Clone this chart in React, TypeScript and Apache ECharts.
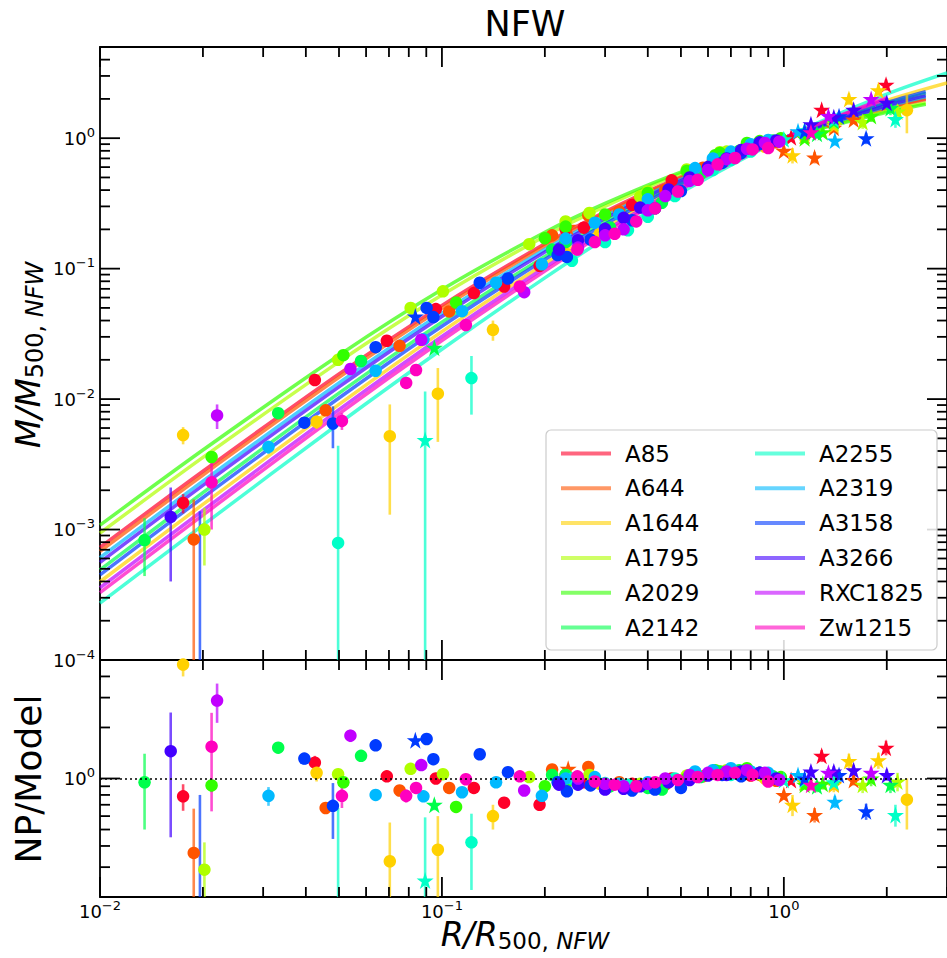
import React, { useEffect, useRef } from "react";
import * as echarts from "echarts";

// ---------------- data ----------------
const CLUSTERS = ["A85", "A644", "A1644", "A1795", "A2029", "A2142", "A2255", "A2319", "A3158", "A3266", "RXC1825", "Zw1215"];
const COLORS = ["#ff0029", "#ff5400", "#ffd100", "#afff00", "#32ff00", "#00ff4b", "#00ffc7", "#00b9ff", "#003bff", "#4300ff", "#c100ff", "#ff00bf"];

// model curves (M/M500)
const MODEL_X = [0.01, 0.02, 0.05, 0.1, 0.2, 0.3, 0.5, 1, 2];
const MODEL_A85 = [7.3e-4, 2.8e-3, 1.56e-2, 5.23e-2, 0.155, 0.273, 0.505, 1, 1.69];
const MODEL_A644 = [6.8e-4, 2.62e-3, 1.47e-2, 4.97e-2, 0.149, 0.264, 0.497, 1, 1.71];
const MODEL_A1644 = [3.98e-4, 1.56e-3, 9.1e-3, 3.29e-2, 0.109, 0.207, 0.432, 1, 1.94];
const MODEL_A1795 = [9.4e-4, 3.57e-3, 1.93e-2, 6.27e-2, 0.177, 0.3, 0.534, 1, 1.62];
const MODEL_A2029 = [1.08e-3, 4.07e-3, 2.17e-2, 6.91e-2, 0.19, 0.316, 0.549, 1, 1.58];
const MODEL_A2142 = [4.9e-4, 1.92e-3, 1.11e-2, 3.89e-2, 0.124, 0.23, 0.459, 1, 1.83];
const MODEL_A2255 = [2.73e-4, 1.08e-3, 6.5e-3, 2.41e-2, 0.085, 0.17, 0.383, 1, 2.18];
const MODEL_A2319 = [6.1e-4, 2.35e-3, 1.33e-2, 4.57e-2, 0.14, 0.252, 0.484, 1, 1.75];
const MODEL_A3158 = [4.5e-4, 1.76e-3, 1.02e-2, 3.62e-2, 0.1175, 0.22, 0.447, 1, 1.87];
const MODEL_A3266 = [5.6e-4, 2.18e-3, 1.24e-2, 4.3e-2, 0.134, 0.243, 0.474, 1, 1.78];
const MODEL_RXC1825 = [3.58e-4, 1.4e-3, 8.3e-3, 3.02e-2, 0.102, 0.196, 0.418, 1, 2.0];
const MODEL_ZW1215 = [3.29e-4, 1.29e-3, 7.7e-3, 2.81e-2, 0.096, 0.188, 0.407, 1, 2.05];
const MODEL_END = [[2.6, 1.98], [2.6, 2.02], [3, 2.65], [2.6, 1.87], [2.6, 1.82], [2.6, 2.2], [3, 3.17], [2.6, 2.08], [2.6, 2.27], [2.6, 2.12], null, null];

// points: [R/R500, M/M500, sigma_M, NP/Model, sigma_ratio, star?]
const PTS_A85 = [
  [0.0175, 1.6e-3, 2.7e-4, 0.785, 0.14, 0], [0.0425, 1.4e-2, 1.3e-3, 1.24, 0.12, 0], [0.069, 2.8e-2, 1.8e-3, 1.03, 0.06, 0],
  [0.096, 4.9e-2, 2.5e-3, 1.0, 0.05, 0], [0.124, 6.5e-2, 3e-3, 0.88, 0.04, 0], [0.152, 7.3e-2, 3e-3, 0.72, 0.04, 0],
  [0.193, 0.105, 5e-3, 0.7, 0.04, 0], [0.23, 0.2, 0.01, 1.05, 0.05, 0], [0.26, 0.206, 0.01, 0.95, 0.05, 0],
  [0.36, 0.308, 0.015, 0.93, 0.05, 0], [0.4, 0.36, 0.018, 0.93, 0.05, 0], [0.47, 0.475, 0.02, 1.0, 0.05, 0],
  [0.62, 0.668, 0.03, 1.07, 0.05, 0], [0.8, 0.835, 0.04, 1.04, 0.05, 0], [0.85, 0.92, 0.045, 1.07, 0.05, 0],
  [1.05, 1.016, 0.06, 0.98, 0.06, 1], [1.15, 1.05, 0.07, 0.95, 0.06, 1], [1.29, 1.65, 0.13, 1.36, 0.11, 1],
  [1.99, 2.57, 0.25, 1.52, 0.15, 1],
];
const PTS_A644 = [
  [0.0188, 8.4e-4, 8.6e-4, 0.364, 0.3, 0], [0.0457, 8.2e-3, 6e-4, 0.67, 0.05, 0], [0.0752, 2.56e-2, 1.5e-3, 0.85, 0.05, 0],
  [0.105, 4.7e-2, 2.5e-3, 0.88, 0.05, 0], [0.21, 0.18, 0.008, 1.13, 0.05, 0], [0.234, 0.209, 0.01, 1.14, 0.05, 1],
  [0.268, 0.256, 0.012, 1.17, 0.05, 0], [0.33, 0.274, 0.013, 0.95, 0.045, 0], [0.4, 0.35, 0.018, 0.92, 0.045, 0],
  [0.45, 0.4, 0.02, 0.92, 0.045, 0], [0.58, 0.594, 0.03, 1.03, 0.05, 0], [0.65, 0.72, 0.035, 1.06, 0.05, 0],
  [0.75, 0.81, 0.04, 1.08, 0.05, 0], [0.85, 0.9, 0.045, 1.05, 0.05, 0], [0.95, 0.93, 0.05, 0.97, 0.05, 0],
  [1.0, 0.8, 0.05, 0.8, 0.05, 1], [1.23, 0.71, 0.07, 0.61, 0.06, 1], [1.4, 1.2, 0.09, 0.93, 0.07, 1],
  [1.6, 1.39, 0.1, 0.98, 0.07, 1],
];
const PTS_A1644 = [
  [0.0175, 5.3e-3, 8e-4, 4.7, 0.7, 0], [0.043, 6.7e-3, 8e-4, 1.08, 0.12, 0], [0.0704, 5.2e-3, 3.9e-3, 0.325, 0.225, 0],
  [0.0973, 1.1e-2, 6.3e-3, 0.38, 0.22, 0], [0.141, 3.4e-2, 6e-3, 0.6, 0.1, 0], [0.23, 0.13, 0.007, 1.0, 0.05, 0],
  [0.29, 0.186, 0.01, 0.93, 0.05, 0], [0.42, 0.29, 0.015, 0.9, 0.05, 0], [0.55, 0.51, 0.025, 1.05, 0.05, 0],
  [0.65, 0.68, 0.035, 1.1, 0.05, 0], [0.72, 0.74, 0.04, 1.1, 0.05, 0], [0.88, 0.86, 0.045, 1.0, 0.05, 0],
  [1.06, 0.74, 0.1, 0.7, 0.1, 1], [1.15, 1.1, 0.1, 0.96, 0.09, 1], [1.4, 1.25, 0.12, 0.92, 0.09, 1],
  [1.55, 2.0, 0.2, 1.27, 0.13, 1], [1.89, 2.33, 0.25, 1.28, 0.14, 1], [2.29, 1.64, 0.55, 0.75, 0.25, 0],
];
const PTS_A1795 = [
  [0.0202, 1.0e-3, 4.7e-4, 0.29, 0.13, 0], [0.0497, 2.0e-2, 1e-3, 1.06, 0.05, 0], [0.081, 5.0e-2, 3e-3, 1.14, 0.06, 0],
  [0.1007, 6.7e-2, 3.5e-3, 1.06, 0.05, 0], [0.18, 0.154, 0.008, 1.02, 0.05, 0], [0.23, 0.23, 0.012, 1.05, 0.05, 0],
  [0.27, 0.267, 0.013, 1.05, 0.05, 0], [0.38, 0.357, 0.018, 0.93, 0.05, 0], [0.4, 0.39, 0.02, 0.93, 0.05, 0],
  [0.52, 0.575, 0.03, 1.04, 0.05, 0], [0.65, 0.78, 0.04, 1.08, 0.05, 0], [0.68, 0.79, 0.04, 1.12, 0.05, 0],
  [0.86, 0.92, 0.05, 1.05, 0.05, 0], [1.15, 1.05, 0.06, 0.95, 0.06, 1], [1.4, 1.3, 0.1, 1.04, 0.08, 1],
  [1.7, 1.33, 0.15, 0.92, 0.1, 1], [2.15, 1.6, 0.2, 0.96, 0.12, 1],
];
const PTS_A2029 = [
  [0.0212, 3.6e-3, 3e-4, 0.91, 0.08, 0], [0.0515, 2.17e-2, 1.2e-3, 0.95, 0.05, 0], [0.11, 5.5e-2, 3e-3, 0.68, 0.04, 0],
  [0.2, 0.171, 0.009, 0.9, 0.05, 0], [0.23, 0.21, 0.01, 0.92, 0.05, 0], [0.3, 0.26, 0.013, 0.87, 0.045, 0],
  [0.4, 0.38, 0.02, 0.9, 0.045, 0], [0.52, 0.56, 0.03, 1.0, 0.05, 0], [0.63, 0.74, 0.04, 1.12, 0.05, 0],
  [0.65, 0.77, 0.04, 1.07, 0.05, 0], [0.78, 0.92, 0.045, 1.15, 0.05, 0], [0.85, 0.95, 0.05, 1.08, 0.05, 0],
  [0.98, 1.0, 0.05, 1.02, 0.05, 0], [1.15, 1.0, 0.07, 0.92, 0.06, 1], [1.3, 1.11, 0.08, 0.93, 0.07, 1],
  [1.8, 1.48, 0.15, 1.0, 0.1, 1],
];
const PTS_A2142 = [
  [0.0135, 8.3e-4, 3.9e-4, 0.95, 0.45, 0], [0.0332, 7.8e-3, 5e-4, 1.52, 0.08, 0], [0.058, 1.96e-2, 1.2e-3, 1.36, 0.07, 0],
  [0.095, 2.48e-2, 1.8e-3, 0.7, 0.05, 1], [0.21, 0.14, 0.007, 1.05, 0.05, 0], [0.23, 0.16, 0.008, 1.05, 0.05, 0],
  [0.31, 0.207, 0.01, 0.9, 0.045, 0], [0.4, 0.3, 0.015, 0.88, 0.045, 0], [0.44, 0.32, 0.016, 0.86, 0.045, 0],
  [0.57, 0.53, 0.027, 1.02, 0.05, 0], [0.65, 0.7, 0.035, 1.1, 0.05, 0], [0.74, 0.8, 0.04, 1.12, 0.05, 0],
  [0.93, 0.96, 0.05, 1.03, 0.05, 0], [1.25, 1.08, 0.08, 0.9, 0.07, 1], [1.4, 1.35, 0.1, 1.02, 0.08, 1],
  [2.05, 1.7, 0.2, 0.92, 0.1, 1],
];
const PTS_A2255 = [
  [0.0497, 7.9e-4, 3.6e-3, 0.12, 0.55, 0], [0.0893, 4.85e-3, 6.6e-3, 0.25, 0.34, 1], [0.122, 1.45e-2, 6.9e-3, 0.42, 0.2, 0],
  [0.24, 0.115, 0.006, 1.0, 0.05, 0], [0.3, 0.16, 0.008, 0.94, 0.05, 0], [0.35, 0.197, 0.01, 0.92, 0.05, 0],
  [0.4, 0.25, 0.013, 0.93, 0.05, 0], [0.48, 0.36, 0.018, 1.0, 0.05, 0], [0.62, 0.57, 0.03, 1.1, 0.05, 0],
  [0.7, 0.68, 0.035, 1.05, 0.05, 0], [0.8, 0.79, 0.04, 1.08, 0.05, 0], [1.0, 0.98, 0.05, 0.98, 0.05, 1],
  [1.15, 1.15, 0.09, 0.98, 0.07, 1], [1.4, 1.39, 0.1, 0.95, 0.07, 1], [2.12, 1.4, 0.2, 0.61, 0.09, 1],
];
const PTS_A2319 = [
  [0.0311, 4.3e-3, 5e-4, 0.79, 0.1, 0], [0.064, 1.65e-2, 8e-4, 0.8, 0.04, 0], [0.0883, 2.87e-2, 1.5e-3, 0.785, 0.04, 0],
  [0.1145, 4.72e-2, 2.4e-3, 0.83, 0.04, 0], [0.144, 7.8e-2, 4e-3, 0.95, 0.05, 0], [0.196, 0.108, 0.005, 0.79, 0.04, 0],
  [0.23, 0.17, 0.009, 1.0, 0.05, 0], [0.28, 0.225, 0.011, 1.02, 0.05, 0], [0.33, 0.26, 0.013, 0.93, 0.05, 0],
  [0.4, 0.34, 0.017, 0.95, 0.05, 0], [0.55, 0.59, 0.03, 1.1, 0.05, 0], [0.62, 0.7, 0.035, 1.12, 0.05, 0],
  [0.7, 0.79, 0.04, 1.15, 0.05, 0], [0.8, 0.9, 0.045, 1.1, 0.05, 0], [0.9, 0.97, 0.05, 1.08, 0.05, 0],
  [1.1, 1.13, 0.07, 1.05, 0.06, 1], [1.41, 0.96, 0.08, 0.73, 0.06, 1],
];
const PTS_A3158 = [
  [0.0196, -2e-4, 1.58e-3, -0.12, 0.92, 0], [0.0396, 6.6e-3, 5e-4, 1.31, 0.1, 0], [0.048, 6.5e-3, 2.3e-3, 0.69, 0.25, 0],
  [0.064, 2.5e-2, 1.3e-3, 1.57, 0.08, 0], [0.0836, 4.3e-2, 2.5e-3, 1.68, 0.1, 1], [0.0902, 5.0e-2, 2.5e-3, 1.71, 0.09, 0],
  [0.0944, 4.25e-2, 3.5e-3, 1.3, 0.1, 0], [0.129, 7.8e-2, 4e-3, 1.39, 0.07, 0], [0.156, 8.4e-2, 4e-3, 1.09, 0.05, 0],
  [0.218, 0.127, 0.006, 0.95, 0.05, 0], [0.232, 0.123, 0.006, 0.84, 0.04, 0], [0.272, 0.167, 0.008, 0.91, 0.045, 0],
  [0.3, 0.19, 0.01, 0.87, 0.045, 0], [0.36, 0.235, 0.012, 0.85, 0.04, 0], [0.42, 0.29, 0.015, 0.86, 0.045, 0],
  [0.5, 0.393, 0.02, 0.88, 0.045, 0], [0.66, 0.648, 0.03, 1.05, 0.05, 0], [0.75, 0.77, 0.04, 1.03, 0.05, 0],
  [0.85, 0.9, 0.045, 1.08, 0.05, 0], [1.15, 1.13, 0.08, 1.0, 0.07, 1], [1.45, 1.47, 0.1, 1.05, 0.07, 1],
  [1.74, 1.0, 0.1, 0.64, 0.07, 1],
];
const PTS_A3266 = [
  [0.0161, 1.25e-3, 8.5e-4, 1.45, 1.0, 0], [0.22, 0.14, 0.007, 0.92, 0.045, 0], [0.25, 0.165, 0.008, 0.92, 0.045, 0],
  [0.3, 0.202, 0.01, 0.86, 0.045, 0], [0.34, 0.245, 0.012, 0.87, 0.045, 0], [0.38, 0.294, 0.015, 0.9, 0.045, 0],
  [0.46, 0.405, 0.02, 0.95, 0.05, 0], [0.53, 0.5, 0.025, 0.98, 0.05, 0], [0.6, 0.6, 0.03, 1.04, 0.05, 0],
  [0.68, 0.7, 0.035, 1.05, 0.05, 0], [0.75, 0.81, 0.04, 1.1, 0.05, 0], [0.85, 0.93, 0.045, 1.08, 0.05, 0],
  [0.95, 0.96, 0.05, 1.0, 0.05, 0], [1.2, 1.28, 0.08, 1.1, 0.07, 1], [1.4, 1.45, 0.1, 1.1, 0.08, 1],
  [1.6, 1.65, 0.12, 1.12, 0.08, 1], [2.0, 1.87, 0.15, 1.05, 0.08, 1],
];
const PTS_RXC1825 = [
  [0.022, 7.5e-3, 1.6e-3, 2.88, 0.75, 0], [0.054, 1.7e-2, 1.4e-3, 1.79, 0.15, 0], [0.087, 2.85e-2, 1.8e-3, 1.2, 0.08, 0],
  [0.174, 6.6e-2, 3.3e-3, 0.85, 0.045, 0], [0.25, 0.145, 0.007, 1.0, 0.05, 0], [0.3, 0.18, 0.009, 0.93, 0.045, 0],
  [0.34, 0.2, 0.01, 0.9, 0.045, 0], [0.4, 0.28, 0.014, 0.93, 0.045, 0], [0.45, 0.36, 0.018, 1.0, 0.05, 0],
  [0.53, 0.47, 0.024, 1.05, 0.05, 0], [0.6, 0.57, 0.03, 1.08, 0.05, 0], [0.68, 0.69, 0.035, 1.1, 0.05, 0],
  [0.78, 0.83, 0.04, 1.12, 0.05, 0], [0.88, 0.92, 0.045, 1.08, 0.05, 0], [0.97, 0.94, 0.05, 0.98, 0.05, 0],
  [1.35, 1.48, 0.1, 1.08, 0.07, 1], [1.8, 2.0, 0.15, 1.08, 0.08, 1],
];
const PTS_ZW1215 = [
  [0.0212, 2.3e-3, 1.3e-3, 1.54, 0.9, 0], [0.051, 6.8e-3, 1e-3, 0.79, 0.12, 0], [0.0786, 1.33e-2, 1.2e-3, 0.79, 0.07, 0],
  [0.084, 1.67e-2, 1e-3, 0.88, 0.05, 0], [0.1175, 3.7e-2, 2e-3, 0.99, 0.05, 0], [0.169, 7.3e-2, 3.5e-3, 1.03, 0.05, 0],
  [0.249, 0.14, 0.007, 1.03, 0.05, 0], [0.28, 0.16, 0.008, 0.96, 0.045, 0], [0.32, 0.185, 0.009, 0.92, 0.045, 0],
  [0.37, 0.23, 0.012, 0.9, 0.045, 0], [0.42, 0.29, 0.015, 0.95, 0.05, 0], [0.49, 0.39, 0.02, 0.98, 0.05, 0],
  [0.56, 0.48, 0.024, 1.02, 0.05, 0], [0.64, 0.63, 0.03, 1.05, 0.05, 0], [0.72, 0.705, 0.035, 1.08, 0.05, 0],
  [0.81, 0.82, 0.04, 1.05, 0.05, 0], [0.9, 0.84, 0.04, 0.96, 0.05, 0], [1.2, 1.11, 0.08, 0.92, 0.07, 1],
];

// axis ticks
const X_MAJOR = [0.01, 0.1, 1];
const X_MINOR = [0.02, 0.03, 0.04, 0.05, 0.06, 0.07, 0.08, 0.09, 0.2, 0.3, 0.4, 0.5, 0.6, 0.7, 0.8, 0.9, 2, 3];
const YTOP_MAJOR = [1e-4, 1e-3, 1e-2, 1e-1, 1];
const YTOP_MINOR = [
  2e-4, 3e-4, 4e-4, 5e-4, 6e-4, 7e-4, 8e-4, 9e-4,
  2e-3, 3e-3, 4e-3, 5e-3, 6e-3, 7e-3, 8e-3, 9e-3,
  2e-2, 3e-2, 4e-2, 5e-2, 6e-2, 7e-2, 8e-2, 9e-2,
  0.2, 0.3, 0.4, 0.5, 0.6, 0.7, 0.8, 0.9, 2, 3, 4,
];
const YBOT_MAJOR = [1];
const YBOT_MINOR = [0.2, 0.3, 0.4, 0.5, 0.6, 0.7, 0.8, 0.9, 2, 3, 4];

const MODELS = [MODEL_A85, MODEL_A644, MODEL_A1644, MODEL_A1795, MODEL_A2029, MODEL_A2142, MODEL_A2255, MODEL_A2319, MODEL_A3158, MODEL_A3266, MODEL_RXC1825, MODEL_ZW1215];
const POINTS = [PTS_A85, PTS_A644, PTS_A1644, PTS_A1795, PTS_A2029, PTS_A2142, PTS_A2255, PTS_A2319, PTS_A3158, PTS_A3266, PTS_RXC1825, PTS_ZW1215];

// ---------------- helpers ----------------
const FONT = "DejaVu Sans";
const STAR = "path://M0,-1L0.2245,-0.309L0.9511,-0.309L0.3633,0.118L0.5878,0.809L0,0.382L-0.5878,0.809L-0.3633,0.118L-0.9511,-0.309L-0.2245,-0.309Z";

const TICK_RICH = {
  b: { fontSize: 18, fontFamily: FONT, color: "#000", lineHeight: 25 },
  s: { fontSize: 13, fontFamily: FONT, color: "#000", lineHeight: 13, padding: [0, 0, 12, 0] },
};
const powLabel = (v: number) => {
  const e = Math.round(Math.log10(v));
  if (Math.abs(v / Math.pow(10, e) - 1) > 1e-6) return "";
  return `{b|10}{s|${e < 0 ? "\u2212" : ""}${Math.abs(e)}}`;
};

type Tick = { ax: string; v: number; L: number };
function buildTicks(xMaj: number[], xMin: number[], yMaj: number[], yMin: number[]): Tick[] {
  const t: Tick[] = [];
  xMaj.forEach((v) => t.push({ ax: "x", v, L: 20 }));
  xMin.forEach((v) => t.push({ ax: "x", v, L: 10 }));
  yMaj.forEach((v) => t.push({ ax: "y", v, L: 20 }));
  yMin.forEach((v) => t.push({ ax: "y", v, L: 10 }));
  return t;
}

function tickSeries(gi: number, ticks: Tick[]) {
  return {
    type: "custom",
    xAxisIndex: gi,
    yAxisIndex: gi,
    silent: true,
    clip: false,
    z: 10,
    data: ticks.map(() => [1, 1]),
    renderItem: (params: any, api: any) => {
      const t = ticks[params.dataIndex];
      const cs = params.coordSys;
      const st = { stroke: "#000", lineWidth: 1.8 };
      if (t.ax === "x") {
        const px = api.coord([t.v, 1])[0];
        return {
          type: "group",
          children: [
            { type: "line", shape: { x1: px, y1: cs.y + cs.height, x2: px, y2: cs.y + cs.height - t.L }, style: st },
            { type: "line", shape: { x1: px, y1: cs.y, x2: px, y2: cs.y + t.L }, style: st },
          ],
        };
      }
      const py = api.coord([1, t.v])[1];
      return {
        type: "group",
        children: [
          { type: "line", shape: { x1: cs.x, y1: py, x2: cs.x + t.L, y2: py }, style: st },
          { type: "line", shape: { x1: cs.x + cs.width, y1: py, x2: cs.x + cs.width - t.L, y2: py }, style: st },
        ],
      };
    },
  };
}

function errSeries(gi: number, rows: number[][], color: string) {
  return {
    type: "custom",
    xAxisIndex: gi,
    yAxisIndex: gi,
    silent: true,
    clip: true,
    z: 3,
    dimensions: ["x", "lo", "hi"],
    encode: { x: 0, y: 2 },
    data: rows,
    renderItem: (params: any, api: any) => {
      const x = api.value(0);
      const lo = api.value(1);
      const hi = api.value(2);
      const cs = params.coordSys;
      const top = api.coord([x, hi]);
      const yLo = lo > 0 ? api.coord([x, lo])[1] : cs.y + cs.height + 30;
      return {
        type: "line",
        shape: { x1: top[0], y1: top[1], x2: top[0], y2: yLo },
        style: { stroke: color, lineWidth: 2.6, opacity: 0.7 },
      };
    },
  };
}

function scatterSeries(gi: number, pts: number[][], vi: number, color: string, name: string) {
  return {
    type: "scatter",
    name,
    xAxisIndex: gi,
    yAxisIndex: gi,
    z: 4,
    clip: true,
    itemStyle: { color, opacity: 1 },
    data: pts
      .filter((p) => p[vi] > 0)
      .map((p) => ({ value: [p[0], p[vi]], symbol: p[5] ? STAR : "circle", symbolSize: p[5] ? 17 : 12.5 })),
  };
}

function buildOption() {
  const series: any[] = [];
  CLUSTERS.forEach((name, i) => {
    const color = COLORS[i];
    const line = MODEL_X.map((x, k) => [x, MODELS[i][k]]);
    if (MODEL_END[i]) line.push(MODEL_END[i] as number[]);
    series.push({
      type: "line",
      name,
      xAxisIndex: 0,
      yAxisIndex: 0,
      data: line,
      symbol: "none",
      showSymbol: false,
      smooth: 0.3,
      z: 2,
      lineStyle: { color, width: 3.5, opacity: 0.7 },
      itemStyle: { color },
    });
  });
  CLUSTERS.forEach((name, i) => {
    const color = COLORS[i];
    const pts = POINTS[i];
    series.push(errSeries(0, pts.map((p) => [p[0], p[1] - p[2], p[1] + p[2]]), color));
    series.push(scatterSeries(0, pts, 1, color, name + " data"));
    series.push(errSeries(1, pts.map((p) => [p[0], p[3] - p[4], p[3] + p[4]]), color));
    const sc: any = scatterSeries(1, pts, 3, color, name + " ratio");
    if (i === 0) {
      sc.markLine = {
        silent: true,
        symbol: ["none", "none"],
        label: { show: false },
        lineStyle: { color: "#000", type: [2, 3], width: 1.6 },
        data: [{ yAxis: 1 }],
      };
    }
    series.push(sc);
  });
  series.push(tickSeries(0, buildTicks(X_MAJOR, X_MINOR, YTOP_MAJOR, YTOP_MINOR)));
  series.push(tickSeries(1, buildTicks(X_MAJOR, X_MINOR, YBOT_MAJOR, YBOT_MINOR)));

  const baseAxis = {
    type: "log",
    logBase: 10,
    axisLine: { show: false },
    axisTick: { show: false },
    minorTick: { show: false },
    splitLine: { show: false },
  };

  const legendCommon = {
    orient: "vertical",
    top: 437,
    icon: "rect",
    itemWidth: 50,
    itemHeight: 4,
    itemGap: 11.8,
    selectedMode: false,
    z: 20,
    itemStyle: { opacity: 0.6 },
    textStyle: { fontSize: 23, fontFamily: FONT, color: "#000", padding: [0, 0, 0, 9] },
  };

  return {
    animation: false,
    textStyle: { fontFamily: FONT },
    grid: [
      { left: 100, top: 47, width: 851, height: 613, show: true, borderColor: "#000", borderWidth: 1.8, backgroundColor: "transparent" },
      { left: 100, top: 660, width: 851, height: 237, show: true, borderColor: "#000", borderWidth: 1.8, backgroundColor: "transparent" },
    ],
    xAxis: [
      { ...baseAxis, gridIndex: 0, min: 0.01, max: 3, axisLabel: { show: false } },
      {
        ...baseAxis,
        gridIndex: 1,
        min: 0.01,
        max: 3,
        axisLabel: { show: true, margin: 2, formatter: powLabel, rich: TICK_RICH, showMinLabel: true, showMaxLabel: false, hideOverlap: false },
      },
    ],
    yAxis: [
      {
        ...baseAxis,
        gridIndex: 0,
        min: 1e-4,
        max: 5,
        axisLabel: { show: true, margin: 5, formatter: powLabel, rich: TICK_RICH, showMinLabel: true, showMaxLabel: false },
      },
      {
        ...baseAxis,
        gridIndex: 1,
        min: 0.2,
        max: 5,
        axisLabel: { show: true, margin: 5, formatter: powLabel, rich: TICK_RICH, showMinLabel: false, showMaxLabel: false },
      },
    ],
    legend: [
      { ...legendCommon, left: 556, data: CLUSTERS.slice(0, 6) },
      { ...legendCommon, left: 750, data: CLUSTERS.slice(6) },
    ],
    graphic: [
      {
        type: "rect",
        z: 15,
        shape: { x: 546, y: 430, width: 391, height: 220, r: 5 },
        style: { fill: "rgba(255,255,255,0.85)", stroke: "#cccccc", lineWidth: 1.2 },
      },
      {
        type: "text",
        x: 525,
        y: 24,
        style: { text: "NFW", fontSize: 35, fontFamily: FONT, fill: "#000", align: "center", verticalAlign: "middle", textAlign: "center", textVerticalAlign: "middle" },
      },
      {
        type: "text",
        x: 28,
        y: 355,
        rotation: Math.PI / 2,
        style: {
          text: "{i|M/M}{s|500, }{si|NFW}",
          fill: "#000",
          align: "center",
          verticalAlign: "middle",
          textAlign: "center",
          textVerticalAlign: "middle",
          rich: {
            i: { fontSize: 34, fontStyle: "italic", fontFamily: FONT, color: "#000", lineHeight: 40 },
            s: { fontSize: 24, fontFamily: FONT, color: "#000", lineHeight: 24, padding: [14, 0, 0, 0] },
            si: { fontSize: 24, fontStyle: "italic", fontFamily: FONT, color: "#000", lineHeight: 24, padding: [14, 0, 0, 0] },
          },
        },
      },
      {
        type: "text",
        x: 28,
        y: 779,
        rotation: Math.PI / 2,
        style: { text: "NP/Model", fontSize: 36, fontFamily: FONT, fill: "#000", align: "center", verticalAlign: "middle", textAlign: "center", textVerticalAlign: "middle" },
      },
      {
        type: "text",
        x: 525,
        y: 934,
        style: {
          text: "{i|R/R}{s|500, }{si|NFW}",
          fill: "#000",
          align: "center",
          verticalAlign: "middle",
          textAlign: "center",
          textVerticalAlign: "middle",
          rich: {
            i: { fontSize: 33, fontStyle: "italic", fontFamily: FONT, color: "#000", lineHeight: 40 },
            s: { fontSize: 23, fontFamily: FONT, color: "#000", lineHeight: 23, padding: [14, 0, 0, 0] },
            si: { fontSize: 23, fontStyle: "italic", fontFamily: FONT, color: "#000", lineHeight: 23, padding: [14, 0, 0, 0] },
          },
        },
      },
    ],
    series,
  };
}

export default function App() {
  const ref = useRef<HTMLDivElement>(null);
  useEffect(() => {
    if (!ref.current) return;
    const chart = echarts.init(ref.current, undefined, { renderer: "svg" });
    chart.setOption(buildOption() as any);
    return () => chart.dispose();
  }, []);
  return <div ref={ref} style={{ position: "absolute", left: 0, top: 0, width: 947, height: 958, background: "#fff" }} />;
}
